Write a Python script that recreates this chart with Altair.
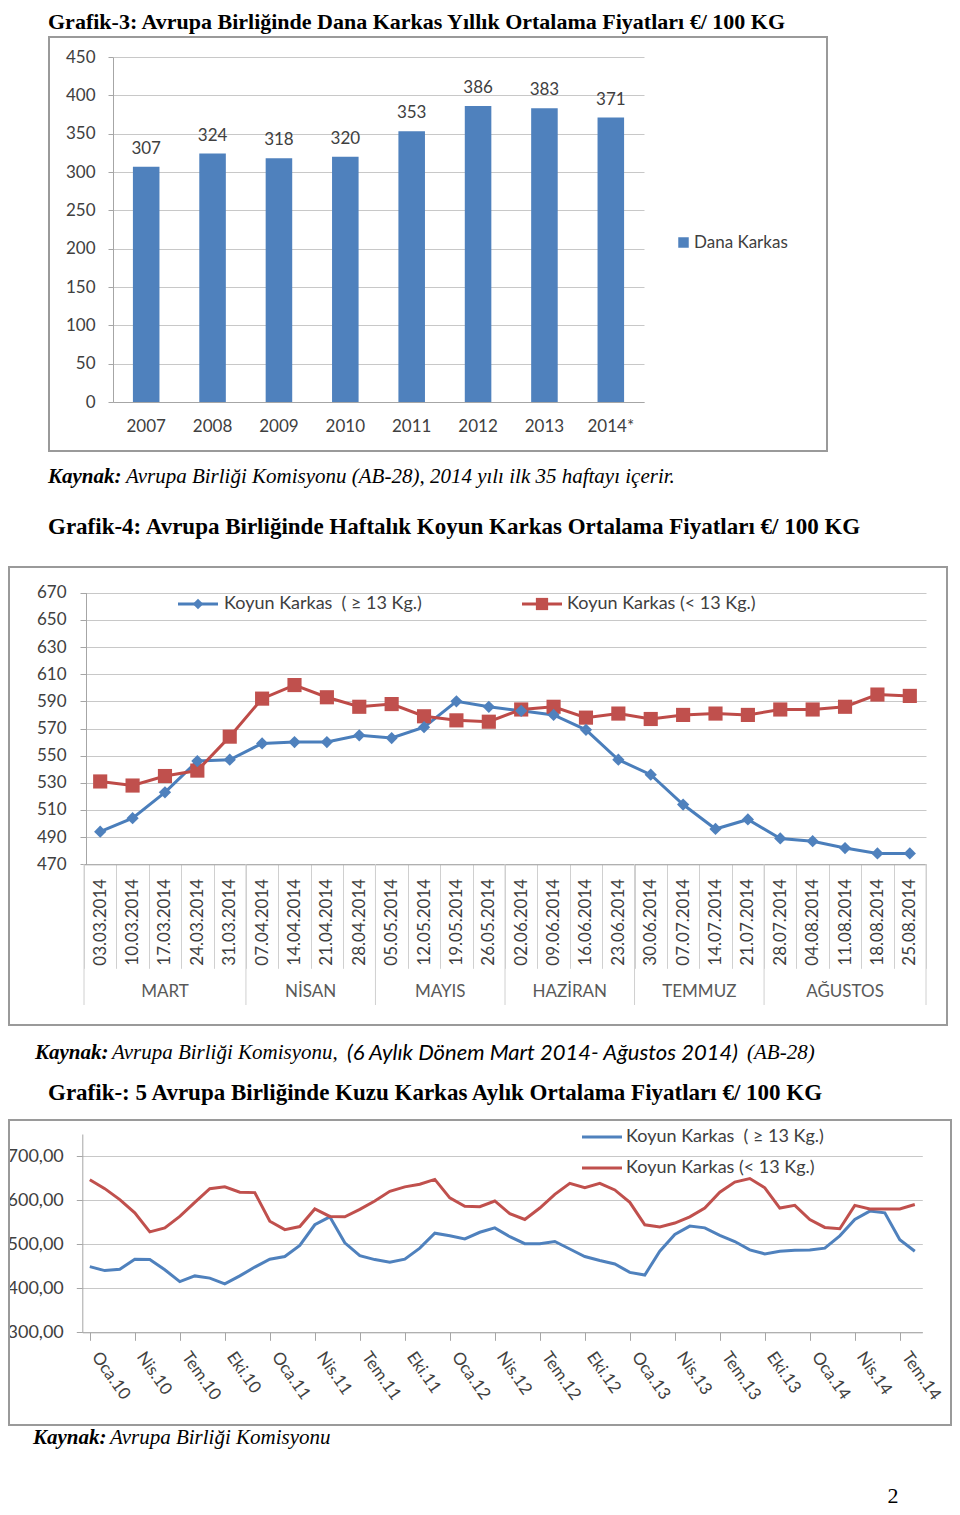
import altair as alt
import pandas as pd

# ---------------- texts ----------------
title_3 = "Grafik-3: Avrupa Birliğinde Dana Karkas Yıllık Ortalama Fiyatları €/ 100 KG"
source_bold = "Kaynak:"
source_3_rest = "Avrupa Birliği Komisyonu (AB-28), 2014 yılı ilk 35 haftayı içerir."
title_4 = "Grafik-4: Avrupa Birliğinde Haftalık Koyun Karkas Ortalama Fiyatları €/ 100 KG"
source_4_a = "Avrupa Birliği Komisyonu,"
source_4_b = "(6 Aylık Dönem Mart 2014- Ağustos 2014)"
source_4_c = "(AB-28)"
title_5 = "Grafik-: 5 Avrupa Birliğinde Kuzu Karkas Aylık Ortalama Fiyatları €/ 100 KG"
source_5_rest = "Avrupa Birliği Komisyonu"
page_no = "2"
series_big = "Koyun Karkas\u00a0\u00a0( ≥ 13 Kg.)"
series_small = "Koyun Karkas (< 13 Kg.)"
series_dana = "Dana Karkas"

# ---------------- data: chart 3 ----------------
years = ["2007", "2008", "2009", "2010", "2011", "2012", "2013", "2014*"]
dana_karkas = [307, 324, 318, 320, 353, 386, 383, 371]

# ---------------- data: chart 4 ----------------
weeks = ["03.03.2014", "10.03.2014", "17.03.2014", "24.03.2014", "31.03.2014",
         "07.04.2014", "14.04.2014", "21.04.2014", "28.04.2014",
         "05.05.2014", "12.05.2014", "19.05.2014", "26.05.2014",
         "02.06.2014", "09.06.2014", "16.06.2014", "23.06.2014",
         "30.06.2014", "07.07.2014", "14.07.2014", "21.07.2014",
         "28.07.2014", "04.08.2014", "11.08.2014", "18.08.2014", "25.08.2014"]
week_months = ["MART", "NİSAN", "MAYIS", "HAZİRAN", "TEMMUZ", "AĞUSTOS"]
weeks_per_month = [5, 4, 4, 4, 4, 5]
koyun_big_weekly = [494, 504, 523, 546, 547, 559, 560, 560, 565, 563, 571, 590, 586,
                    583, 580, 569, 547, 536, 514, 496, 503, 489, 487, 482, 478, 478]
koyun_small_weekly = [531, 528, 535, 539, 564, 592, 602, 593, 586, 588, 579, 576, 575,
                      584, 586, 578, 581, 577, 580, 581, 580, 584, 584, 586, 595, 594]

# ---------------- data: chart 5 ----------------
month_abbr = ["Oca", "Şub", "Mar", "Nis", "May", "Haz", "Tem", "Ağu", "Eyl", "Eki", "Kas", "Ara"]
year_suffix = ["10", "11", "12", "13", "14"]
months = [f"{m}.{y}" for y in year_suffix for m in month_abbr][:56]
kuzu_big = [449, 440, 443, 466, 465, 442, 415, 428, 423, 410, 428, 448, 466, 472, 497,
            544, 562, 503, 474, 465, 459, 466, 491, 525, 519, 512, 527, 537, 517,
            501, 501, 506, 489, 472, 463, 455, 436, 430, 484, 522, 541, 537, 520,
            506, 487, 478, 484, 486, 487, 491, 519, 556, 575, 571, 510, 484]
kuzu_small = [646, 626, 601, 571, 528, 537, 563, 595, 626, 630, 618, 617, 552, 533, 540,
              580, 563, 562, 579, 598, 620, 630, 636, 647, 605, 586, 585, 598, 569,
              556, 582, 613, 638, 628, 638, 623, 595, 544, 539, 548, 562, 582, 618,
              641, 649, 628, 582, 588, 556, 538, 535, 588, 580, 580, 580, 590]

# ---------------- layout helpers ----------------
W, H = 944, 1499
SERIF = "Liberation Serif"
SANS = "Lato"
BLUE = "#4F81BD"
RED = "#C0504D"
GRID = "#C8C8C8"
AX = "#A6A6A6"
TXT = "#404040"


def X(p):
    return p - 8


def Y(p):
    return p - 8


one = alt.Data(values=[{"a": 1}])


def txt(s, x, y, size, font=SERIF, weight="normal", style="normal", align="left", color="#000000"):
    return alt.Chart(alt.Data(values=[{"t": s}])).mark_text(
        align=align, baseline="middle", font=font, fontSize=size,
        fontWeight=weight, fontStyle=style, color=color
    ).encode(text="t:N", x=alt.value(X(x)), y=alt.value(Y(y)))


def frame(x1, y1, x2, y2):
    return alt.Chart(one).mark_rect(fillOpacity=0, stroke="#9A9A9A", strokeWidth=2).encode(
        x=alt.value(X(x1)), x2=alt.value(X(x2)), y=alt.value(Y(y1)), y2=alt.value(Y(y2)))


def leg_line(x1, x2, y, color):
    return alt.Chart(one).mark_rule(color=color, strokeWidth=3).encode(
        x=alt.value(X(x1)), x2=alt.value(X(x2)), y=alt.value(Y(y)))


def leg_pt(x, y, shape, color, size):
    return alt.Chart(one).mark_point(shape=shape, filled=True, color=color, size=size, opacity=1).encode(
        x=alt.value(X(x)), y=alt.value(Y(y)))


layers = []

# ================= Chart 3 =================
df3 = pd.DataFrame({"yil": years, "fiyat": dana_karkas})
x3_scale = alt.Scale(domain=years, range=[X(113), X(644)], paddingInner=0.6, paddingOuter=0.3)
y3_scale = alt.Scale(domain=[0, 450], range=[Y(402), Y(57)], nice=False, zero=False)

bars3 = alt.Chart(df3).mark_bar(color=BLUE).encode(
    x=alt.X("yil:N", sort=years, scale=x3_scale,
            axis=alt.Axis(orient="bottom", offset=Y(402) - H, title=None, labelAngle=0,
                          ticks=False, domainColor=AX, labelFont=SANS, labelFontSize=17,
                          labelColor=TXT, labelPadding=16, grid=False, labelBaseline="top")),
    y=alt.Y("fiyat:Q", scale=y3_scale,
            axis=alt.Axis(orient="left", offset=-X(113), title=None, values=list(range(0, 451, 50)),
                          grid=True, gridColor=GRID, domainColor=AX, tickColor=AX, tickSize=5,
                          labelFont=SANS, labelFontSize=17, labelColor=TXT, labelPadding=13)),
)
labels3 = alt.Chart(df3).mark_text(baseline="bottom", dy=-9, font=SANS, fontSize=17, color=TXT).encode(
    x=alt.X("yil:N", sort=years, scale=x3_scale, axis=None),
    y=alt.Y("fiyat:Q", scale=y3_scale, axis=None),
    text="fiyat:Q",
)
layers += [frame(49, 37, 827, 451), bars3, labels3,
           leg_pt(683.5, 242.5, "square", BLUE, 110),
           txt(series_dana, 694, 243, 17, font=SANS, color=TXT)]

# ================= Chart 4 =================
df4 = pd.DataFrame({"hafta": weeks, "buyuk": koyun_big_weekly, "kucuk": koyun_small_weekly})
x4_scale = alt.Scale(domain=weeks, range=[X(84), X(926)], paddingInner=0, paddingOuter=0)
y4_scale = alt.Scale(domain=[470, 670], range=[Y(864.3), Y(592.7)], nice=False, zero=False)

x4_axis = alt.Axis(orient="bottom", offset=Y(864.3) - H, title=None, labelAngle=270,
                   tickBand="extent", tickSize=104, tickColor="#D0D0D0", domainColor=AX,
                   labelPadding=-90, labelFont=SANS, labelFontSize=17, labelColor=TXT,
                   labelOverlap=False, labelAlign="right", labelBaseline="middle", grid=False)
y4_axis = alt.Axis(orient="left", offset=-X(86), title=None, values=list(range(470, 671, 20)),
                   grid=True, gridColor=GRID, domainColor=AX, tickColor=AX, tickSize=6,
                   labelFont=SANS, labelFontSize=17, labelColor=TXT, labelPadding=14)

line4a = alt.Chart(df4).mark_line(color="#4A7EBB", strokeWidth=3).encode(
    x=alt.X("hafta:N", sort=weeks, scale=x4_scale, axis=x4_axis),
    y=alt.Y("buyuk:Q", scale=y4_scale, axis=y4_axis),
)
line4b = alt.Chart(df4).mark_line(color="#BE4B48", strokeWidth=3).encode(
    x=alt.X("hafta:N", sort=weeks, scale=x4_scale, axis=None),
    y=alt.Y("kucuk:Q", scale=y4_scale, axis=None),
)
pts4b = alt.Chart(df4).mark_point(shape="square", filled=True, color=RED, size=200, opacity=1).encode(
    x=alt.X("hafta:N", sort=weeks, scale=x4_scale, axis=None),
    y=alt.Y("kucuk:Q", scale=y4_scale, axis=None),
)
pts4a = alt.Chart(df4).mark_point(shape="diamond", filled=True, color=BLUE, size=150, opacity=1).encode(
    x=alt.X("hafta:N", sort=weeks, scale=x4_scale, axis=None),
    y=alt.Y("buyuk:Q", scale=y4_scale, axis=None),
)

starts = [sum(weeks_per_month[:i]) for i in range(len(weeks_per_month))]
df_m = pd.DataFrame({"ay": week_months,
                     "orta": [s + n / 2 for s, n in zip(starts, weeks_per_month)]})
df_sep = pd.DataFrame({"sinir": starts + [sum(weeks_per_month)]})
idx_scale = alt.Scale(domain=[0, len(weeks)], range=[X(84), X(926)], nice=False, zero=False)

months4 = alt.Chart(df_m).mark_text(font=SANS, fontSize=17, color="#595959", baseline="middle").encode(
    x=alt.X("orta:Q", scale=idx_scale, axis=None),
    y=alt.value(Y(992)),
    text="ay:N",
)
seps4 = alt.Chart(df_sep).mark_rule(color="#D0D0D0", strokeWidth=1).encode(
    x=alt.X("sinir:Q", scale=idx_scale, axis=None),
    y=alt.value(Y(864)), y2=alt.value(Y(1005)),
)

layers += [frame(9, 567, 947, 1025), seps4, line4a, line4b, pts4b, pts4a, months4,
           leg_line(178, 218, 604, "#4A7EBB"), leg_pt(198, 604, "diamond", BLUE, 110),
           txt(series_big, 224, 604, 18, font=SANS, color=TXT),
           leg_line(522, 562, 604, "#BE4B48"), leg_pt(542, 604, "square", RED, 150),
           txt(series_small, 567, 604, 18, font=SANS, color=TXT)]

# ================= Chart 5 =================
df5 = pd.DataFrame({"ay": months, "buyuk": kuzu_big, "kucuk": kuzu_small})
x5_scale = alt.Scale(domain=months, range=[X(82.3), X(922.3)], paddingInner=0, paddingOuter=0)
y5_scale = alt.Scale(domain=[300, 750], range=[Y(1332.3), Y(1134)], nice=False, zero=False)

x5_axis = alt.Axis(orient="bottom", offset=Y(1332.3) - H, title=None, values=months[::3],
                   bandPosition=0, labelOffset=5, labelAngle=55, labelAlign="left",
                   labelBaseline="middle", tickSize=8, tickColor=AX, domainColor=AX,
                   labelPadding=13, labelFont=SANS, labelFontSize=17, labelColor=TXT,
                   labelOverlap=False, grid=False)
y5_axis = alt.Axis(orient="left", offset=-X(82.3), title=None, values=[300, 400, 500, 600, 700],
                   labelExpr="replace(format(datum.value, '.2f'), '.', ',')",
                   grid=True, gridColor=GRID, domainColor=AX, tickColor=AX, tickSize=6,
                   labelFont=SANS, labelFontSize=18, labelColor=TXT, labelPadding=13)

line5a = alt.Chart(df5).mark_line(color=BLUE, strokeWidth=3).encode(
    x=alt.X("ay:N", sort=months, scale=x5_scale, axis=x5_axis),
    y=alt.Y("buyuk:Q", scale=y5_scale, axis=y5_axis),
)
line5b = alt.Chart(df5).mark_line(color=RED, strokeWidth=3).encode(
    x=alt.X("ay:N", sort=months, scale=x5_scale, axis=None),
    y=alt.Y("kucuk:Q", scale=y5_scale, axis=None),
)

layers += [frame(9, 1120, 951, 1425), line5a, line5b,
           leg_line(582, 622, 1137, BLUE), txt(series_big, 626, 1137, 18, font=SANS, color=TXT),
           leg_line(582, 622, 1168, RED), txt(series_small, 626, 1168, 18, font=SANS, color=TXT)]

# ================= page texts =================
layers += [
    txt(title_3, 48, 22, 22, weight="bold"),
    txt(source_bold, 48, 477, 21, weight="bold", style="italic"),
    txt(source_3_rest, 126, 477, 21, style="italic"),
    txt(title_4, 48, 527, 23, weight="bold"),
    txt(source_bold, 35, 1053, 21, weight="bold", style="italic"),
    txt(source_4_a, 112, 1053, 21, style="italic"),
    txt(source_4_b, 347, 1053, 22, font=SANS, style="italic"),
    txt(source_4_c, 747, 1053, 21, style="italic"),
    txt(title_5, 48, 1093, 23, weight="bold"),
    txt(source_bold, 33, 1438, 21, weight="bold", style="italic"),
    txt(source_5_rest, 110, 1438, 21, style="italic"),
    txt(page_no, 893, 1496, 22, align="center"),
]

chart = alt.layer(*layers).resolve_scale(x="independent", y="independent").properties(
    width=W, height=H, autosize=alt.AutoSizeParams(type="none"), padding=0, background="white"
).configure_view(stroke=None)

chart.save("out.html", embed_options={"renderer": "svg", "actions": False})
